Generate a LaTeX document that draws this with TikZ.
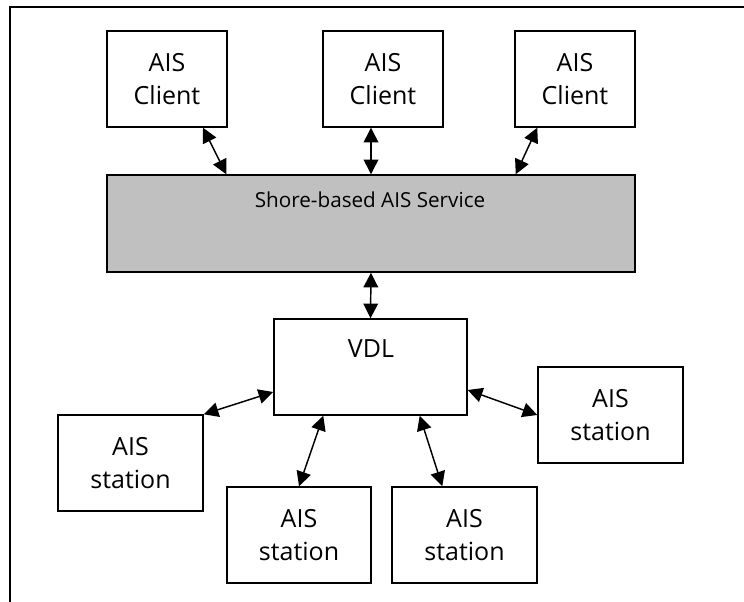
\documentclass[tikz,border=0pt]{standalone}
\usepackage{fontspec}
\setmainfont{Open Sans}
\usetikzlibrary{arrows.meta,calc}
\begin{document}
\begin{tikzpicture}[x=0.75pt,y=-0.75pt,
  box/.style={draw=black,line width=1.1pt,rectangle,inner sep=0pt,align=center,
    font=\fontsize{18.75}{24.75}\selectfont},
  link/.style={line width=1.1pt,{Triangle[length=11pt,width=11pt]}-{Triangle[length=11pt,width=11pt]}},
  frame/.style={line width=1.1pt}]
\useasboundingbox (0,0) rectangle (744,602);
\coordinate (fa) at (744,7);
\coordinate (fb) at (10,7);
\coordinate (fc) at (10,602);
\draw[frame] (fa) -- (fb) -- (fc);
% clients
\node[box,minimum width=90pt,minimum height=72pt] (c1) at (167,79) {AIS\\Client};
\node[box,minimum width=90pt,minimum height=72pt] (c2) at (383,79) {AIS\\Client};
\node[box,minimum width=90pt,minimum height=72pt] (c3) at (575,79) {AIS\\Client};
% shore service
\node[box,fill={rgb,255:red,192;green,192;blue,192},minimum width=396pt,minimum height=72.75pt] (shore) at (371,223.5) {};
\node[anchor=base,inner sep=0pt,font=\fontsize{15.5}{20}\selectfont] (shoretxt) at (370,208) {Shore-based AIS Service};
% VDL
\node[box,minimum width=144.75pt,minimum height=72pt] (vdl) at (370.5,367) {};
\node[anchor=base,inner sep=0pt,font=\fontsize{18.75}{24.75}\selectfont] (vdltxt) at (371,358) {VDL};
% stations
\node[box,minimum width=108.75pt,minimum height=72pt] (s1) at (130.5,463) {AIS\\station};
\node[box,minimum width=108pt,minimum height=72pt] (s2) at (299,535) {AIS\\station};
\node[box,minimum width=108.75pt,minimum height=72pt] (s3) at (464.5,535) {AIS\\station};
\node[box,minimum width=108.75pt,minimum height=72pt] (s4) at (610.5,415) {AIS\\station};
% connectors
\draw[link] ($(c1.south)+(36,0)$) -- ($(shore.north west)+(120,0)$);
\draw[link] (shore.north |- c2.south) -- (shore.north);
\draw[link] ($(c3.south west)+(23,0)$) -- ($(shore.north east)+(-120,0)$);
\draw[link] (shore.south) -- (vdl.north);
\draw[link] (s1.north east) -- ($(vdl.west)+(0,25)$);
\draw[link] (s2.north) -- ($(vdl.south west)+(50,0)$);
\draw[link] ($(s3.north west)+(51,0)$) -- ($(vdl.south east)+(-48,0)$);
\draw[link] ($(vdl.east)+(0,23)$) -- (s4.west);
\end{tikzpicture}
\end{document}
